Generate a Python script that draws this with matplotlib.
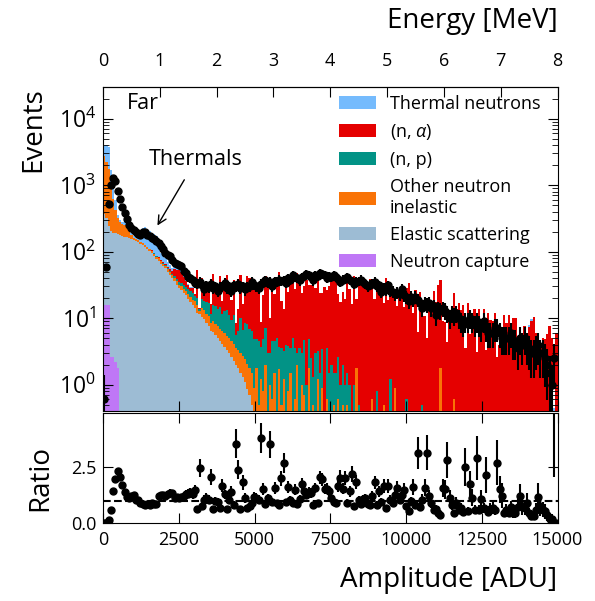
import numpy as np
import matplotlib
matplotlib.use("Agg")
import matplotlib.pyplot as plt
from matplotlib.ticker import LogLocator, NullFormatter, MultipleLocator, FormatStrFormatter, FixedLocator

plt.rcParams['font.family'] = ['Open Sans', 'DejaVu Sans']
plt.rcParams['mathtext.fontset'] = 'custom'
plt.rcParams['mathtext.rm'] = 'Open Sans'
plt.rcParams['mathtext.it'] = 'Open Sans:italic'
plt.rcParams['mathtext.bf'] = 'Open Sans:bold'

# ---------------- data ----------------
bin_width = 75          # ADU per bin
amp_max = 15000         # ADU
energy_max = 8          # MeV at amp_max
energy_ticks = [0, 1, 2, 3, 4, 5, 6, 7, 8]

capture = [
    16, 16, 16, 2.6, 2.6, 2.2, 1.8, 0, 0, 0,
    0, 0, 0, 0, 0, 0, 0, 0, 0, 0,
    0, 0, 0, 0, 0, 0, 0, 0, 0, 0,
    0, 0, 0, 0, 0, 0, 0, 0, 0, 0,
    0, 0, 0, 0, 0, 0, 0, 0, 0, 0,
    0, 0, 0, 0, 0, 0, 0, 0, 0, 0,
    0, 0, 0, 0, 0, 0, 0, 0, 0, 0,
    0, 0, 0, 0, 0, 0, 0, 0, 0, 0,
    0, 0, 0, 0, 0, 0, 0, 0, 0, 0,
    0, 0, 0, 0, 0, 0, 0, 0, 0, 0,
    0, 0, 0, 0, 0, 0, 0, 0, 0, 0,
    0, 0, 0, 0, 0, 0, 0, 0, 0, 0,
    0, 0, 0, 0, 0, 0, 0, 0, 0, 0,
    0, 0, 0, 0, 0, 0, 0, 0, 0, 0,
    0, 0, 0, 0, 0, 0, 0, 0, 0, 0,
    0, 0, 0, 0, 0, 0, 0, 0, 0, 0,
    0, 0, 0, 0, 0, 0, 0, 0, 0, 0,
    0, 0, 0, 0, 0, 0, 0, 0, 0, 0,
    0, 0, 0, 0, 0, 0, 0, 0, 0, 0,
    0, 0, 0, 0, 0, 0, 0, 0, 0, 0,
]

elastic = [
    350, 300, 230, 200, 190, 186, 180, 176, 172, 168,
    164, 160, 156, 150, 144, 138, 131, 124, 117, 109,
    101, 96, 87, 78, 73, 66, 60, 56, 50, 45,
    40, 36, 32, 28, 26.5, 24, 22, 19.5, 17.5, 15.5,
    14, 12, 11.5, 10.5, 9.8, 8.5, 7.6, 6.5, 6.2, 5.6,
    5.0, 4.5, 4.1, 3.7, 3.3, 3.0, 2.6, 2.3, 2.0, 1.75,
    1.5, 1.3, 1.1, 0.85, 0.7, 0.5, 0, 0, 0, 0,
    0, 0, 0, 0, 0, 0, 0, 0, 0, 0,
    0, 0, 0, 0, 0, 0, 0, 0, 0, 0,
    0, 0, 0, 0, 0, 0, 0, 0, 0, 0,
    0, 0, 0, 0, 0, 0, 0, 0, 0, 0,
    0, 0, 0, 0, 0, 0, 0, 0, 0, 0,
    0, 0, 0, 0, 0, 0, 0, 0, 0, 0,
    0, 0, 0, 0, 0, 0, 0, 0, 0, 0,
    0, 0, 0, 0, 0, 0, 0, 0, 0, 0,
    0, 0, 0, 0, 0, 0, 0, 0, 0, 0,
    0, 0, 0, 0, 0, 0, 0, 0, 0, 0,
    0, 0, 0, 0, 0, 0, 0, 0, 0, 0,
    0, 0, 0, 0, 0, 0, 0, 0, 0, 0,
    0, 0, 0, 0, 0, 0, 0, 0, 0, 0,
]

other_inelastic = [
    2400, 1900, 1500, 800, 420, 240, 140, 100, 85, 82,
    68, 45, 22, 10, 12, 10, 9, 9, 8, 8,
    7, 7, 6.5, 6, 6, 5.5, 5.5, 5, 5, 4.8,
    4.6, 4.4, 4.2, 4, 3.9, 3.8, 3.6, 3.5, 3.4, 3.2,
    4, 3.8, 1.5, 3.6, 3.4, 3.2, 3, 2, 2.8, 2.6,
    2.5, 2.4, 2.3, 2.2, 2.1, 2, 1.9, 1.8, 1.5, 1.6,
    1.5, 1.4, 1.3, 1.2, 1.1, 1.0, 0.9, 1.8, 0.5, 1.2,
    0.8, 2, 0, 1, 0.6, 1.5, 0, 1.7, 0.5, 1.2,
    0, 0.8, 1.5, 0, 0.6, 2, 0, 1, 0.7, 0,
    1.8, 0, 0.5, 0, 1.2, 0, 0.9, 0, 0.6, 0,
    0, 0.5, 0, 0.6, 0, 0.5, 0, 0.5, 0, 0.4,
    0, 1.8, 0, 0, 0, 0, 0, 0, 0.6, 0,
    0, 0, 0, 0.5, 0, 0, 0, 0, 0.9, 0,
    0, 0, 0, 0, 0, 0, 0, 0, 0, 0,
    0, 0, 0, 0, 0, 0, 0, 0, 1.8, 0,
    0, 0, 0, 0, 0.6, 0, 0, 0, 0, 0,
    0, 0, 0, 0, 0, 0, 0, 0, 0, 0,
    0, 0, 0, 0, 0, 0, 0, 0, 0, 0,
    0, 0, 0, 0, 0, 0, 0, 0, 0, 0,
    0, 0, 0, 0, 0, 0, 0, 0, 0, 0,
]

n_p = [
    0, 0, 0, 0, 0, 0, 0, 0, 0, 0,
    0, 0, 0, 0, 0, 0, 0, 0.3, 0.3, 0.5,
    0.5, 0.6, 0.8, 1, 1, 1.2, 1.3, 1.5, 1.7, 2,
    2.2, 2.5, 3, 3.2, 3.5, 3.8, 4, 4.2, 4.5, 4.8,
    3.5, 4, 0.5, 5, 5, 6, 6, 3, 7, 7,
    6, 8, 5, 7, 8, 6, 5, 7, 2, 3,
    7, 4, 6, 6, 5, 5, 4, 3, 4, 2.5,
    4, 5, 3, 2, 4, 3, 5, 2, 3, 2,
    4, 3, 2, 5, 3, 1, 3.5, 2, 4, 1,
    3, 2.5, 0.8, 3, 2, 1.5, 2.5, 0, 3, 1.5,
    2, 1, 1.5, 2, 1, 1.5, 1, 1, 1, 0,
    1, 0, 0.5, 0, 0, 0, 0, 0, 0, 0,
    0.8, 0, 0, 0, 0, 0, 1.2, 0, 0, 0,
    0, 0, 0, 0.6, 0, 0, 0, 0, 0, 0,
    0.5, 0, 0, 0, 0, 0, 0, 0, 0, 0,
    0, 0, 0, 0, 0, 0, 0, 0, 0, 0,
    0, 0, 0, 0, 0, 0, 0, 0, 0, 0,
    0, 0, 0, 0, 0, 0, 0, 0, 0, 0,
    0, 0, 0, 0, 0, 0, 0, 0, 0, 0,
    0, 0, 0, 0, 0, 0, 0, 0, 0, 0,
]

n_alpha = [
    0, 0, 0, 0, 0, 0, 0, 0, 0, 0,
    0, 0, 0, 0, 0, 0.5, 0.6, 0.8, 1, 1,
    1.2, 1.5, 1.5, 1.8, 2, 2.2, 2.5, 2.5, 3, 3.2,
    3.5, 12, 14, 18, 16, 10, 6, 4, 3, 5,
    1.3, 32.4, 0.8, 21, 8, 10, 11.3, 4.6, 30, 15.8,
    14.2, 28, 6.6, 13.8, 31.6, 17.8, 9.5, 26.7, 3.0, 7.5,
    35, 9.8, 16, 35, 33.7, 33.5, 22.7, 22, 22.4, 5,
    17.6, 36, 27.4, 7, 27, 18.5, 34.3, 45, 14.5, 10.7,
    32.5, 21.2, 33, 44, 23.9, 44, 30.9, 20.8, 25.8, 36.4,
    27.2, 28.8, 44, 25.8, 45, 22, 20.3, 29.3, 22.6, 29,
    35.5, 45.5, 44, 20.8, 16.4, 23, 18.5, 43.5, 26, 16,
    42, 17.4, 34.1, 45, 32.7, 29.5, 35.4, 39, 26.4, 19.4,
    35.8, 22, 27, 16.3, 40, 18.8, 23.8, 28, 17.5, 15.4,
    22, 21.4, 14.8, 27.8, 33.9, 21.9, 11.9, 26.9, 6.1, 24.3,
    13.3, 10.9, 5.1, 14.4, 15.7, 25.4, 17.6, 31, 35, 9,
    8.7, 4.3, 9, 15, 22.9, 13.5, 17, 13.4, 16, 3.6,
    17, 5.7, 8, 13.6, 3.1, 13.6, 6.5, 13.6, 3.3, 12,
    9.5, 9, 11.9, 2.6, 4, 4.1, 11, 8.5, 11, 8.5,
    10, 10, 5, 4.2, 5.4, 7.7, 4.5, 7.4, 9.1, 10.3,
    5.9, 3.4, 4, 5.1, 4.8, 5.7, 7.5, 5, 0, 6,
]

thermal = [
    1130, 1780, 2050, 700, 287, 165, 34, 24, 24, 27,
    31, 18, 12, 14, 31, 36, 61, 95, 112, 90,
    97, 77, 89, 88, 30, 22, 18, 15, 10, 8,
    6, 5, 4, 3, 2.5, 2, 1.5, 1, 1, 0.5,
    0.5, 0, 0, 0, 0, 0, 0, 0, 0, 0,
    0, 0, 0, 0, 0, 0, 0, 0, 0, 0,
    0, 0, 0, 0, 0, 0, 0, 0, 0, 0,
    0, 0, 0, 0, 0, 0, 0, 0, 0, 0,
    0, 0, 0, 0, 0, 0, 0, 0, 0, 0,
    0, 0, 0, 0, 0, 0, 0, 0, 0, 0,
    0, 0, 0, 0, 0, 0, 0, 0, 0, 0,
    0, 0, 0, 0, 0, 0, 0, 0, 0, 0,
    0, 0, 0, 0, 0, 0, 0, 0, 0, 0,
    0, 0, 0, 0, 0, 0, 0, 0, 0, 0,
    0, 0, 0, 0, 0, 0, 0, 0, 0, 0,
    0, 0, 0, 0, 0.5, 0, 0, 0, 0, 0,
    0, 0, 0, 0, 0, 0, 0, 0, 0, 0,
    0, 0, 0, 0, 0, 0, 0, 0, 0, 0,
    0, 0, 0, 0, 0, 0, 0, 0.6, 0.6, 0,
    0, 0, 0, 0, 0, 0, 0, 0, 0.45, 0,
]

data_counts = [
    0.6, 58, 520, 1000, 1270, 1150, 820, 610, 470, 380,
    305, 250, 230, 215, 195, 187, 180, 195, 195, 180,
    170, 160, 157, 145, 137, 120, 108, 97, 90, 85,
    75, 68, 65, 63, 60, 52, 48, 42, 40, 37,
    34, 33, 35, 31, 27, 31, 29, 33, 28, 30,
    26, 29, 30, 34, 28, 30, 26, 31, 30, 33,
    28, 30, 27, 29, 30, 35, 32, 30, 28, 33,
    34, 37, 34, 35, 30, 36, 35, 38, 36, 37,
    34, 40, 38, 44, 41, 40, 37, 41, 43, 46,
    44, 42, 37, 45, 43, 48, 46, 44, 40, 43,
    42, 44, 41, 39, 35, 38, 39, 41, 38, 36,
    33, 35, 36, 38, 35, 33, 30, 32, 33, 35,
    30, 31, 25, 28, 27, 31, 26, 25, 23, 24,
    23, 27, 22, 21, 18, 21, 19, 21, 19, 17,
    14, 17, 16, 17, 14, 15, 11, 14, 13, 14,
    13, 12, 10, 12, 11, 12, 10, 9, 8, 9,
    9, 10, 9, 8, 9, 8, 7, 9, 7, 6,
    6, 6, 7, 7, 6, 5, 5, 5, 5, 6,
    4.5, 4.5, 3.5, 5, 4, 5, 4, 3.5, 3, 3,
    3.5, 4, 3, 3, 2.5, 2, 1.5, 1, 2.5, 0,
]

labels = ["Neutron capture", "Elastic scattering", "Other neutron\ninelastic",
          "(n, p)", r"(n, $\alpha$)", "Thermal neutrons"]
colors = ["#bf77f6", "#9dbcd4", "#f97306", "#029386", "#e50000", "#75bbfd"]

# ---------------- derived ----------------
edges = np.arange(0, amp_max + bin_width, bin_width)
centers = 0.5 * (edges[:-1] + edges[1:])
components = [np.array(c, float) for c in (capture, elastic, other_inelastic, n_p, n_alpha, thermal)]
mc_total = np.sum(components, axis=0)
data = np.array(data_counts, float)
data_err = np.sqrt(data)

# ---------------- figure ----------------
fig = plt.figure(figsize=(5.95, 6.01), dpi=100)
ax = fig.add_axes([103 / 595, 1 - 411 / 601, 454.5 / 595, 324 / 601])
ax2 = fig.add_axes([103 / 595, 1 - 523 / 601, 454.5 / 595, 110 / 601])

ax.hist([centers] * len(components), bins=edges, weights=components, stacked=True,
        histtype='stepfilled', color=colors, label=labels, log=True, linewidth=0)

m = data > 0
ax.errorbar(centers[m], data[m], yerr=data_err[m], fmt='o', color='k', ms=5,
            elinewidth=1.5, capsize=0, zorder=5)

ax.set_yscale('log')
ax.set_xlim(0, amp_max)
ax.set_ylim(0.4, 3e4)
ax.yaxis.set_major_locator(LogLocator(base=10, numticks=10))
ax.yaxis.set_minor_locator(LogLocator(base=10, subs=np.arange(2, 10), numticks=20))
ax.yaxis.set_minor_formatter(NullFormatter())
ax.xaxis.set_major_locator(MultipleLocator(2500))
ax.tick_params(axis='both', which='both', direction='in', right=True, top=False,
               labelbottom=False)
ax.tick_params(axis='y', labelsize=16.5, pad=5)
ax.tick_params(which='major', length=7)
ax.tick_params(which='minor', length=4)

secax = ax.secondary_xaxis('top', functions=(lambda a: a * energy_max / amp_max,
                                             lambda e: e * amp_max / energy_max))
secax.xaxis.set_major_locator(FixedLocator(energy_ticks))
secax.tick_params(direction='in', length=7, labelsize=13, pad=12.5)
secax.set_xlabel('Energy [MeV]', fontsize=20, loc='right', labelpad=17)

ax.text(0.053, 0.948, 'Far', transform=ax.transAxes, fontsize=15.5, ha='left', va='center')
ax.text(0.2046, 0.775, 'Thermals', transform=ax.transAxes, fontsize=15.5, ha='center', va='center')
ax.annotate('', xy=(0.1166, 0.565), xycoords='axes fraction',
            xytext=(0.182, 0.721), textcoords='axes fraction',
            arrowprops=dict(arrowstyle='->', lw=1, color='k', mutation_scale=15))

h, l = ax.get_legend_handles_labels()
ax.legend(h, l, loc='upper left', bbox_to_anchor=(339 / 595, 1 - 95 / 601),
          bbox_transform=fig.transFigure, frameon=False, fontsize=13,
          handlelength=2.05, handleheight=0.72, handletextpad=0.78, labelspacing=0.5,
          borderpad=0, borderaxespad=0)

fig.text(33 / 595, 1 - 87 / 601, 'Events', rotation=90, fontsize=20, ha='center', va='top')

# ratio panel
mr = mc_total > 0
ratio = data[mr] / mc_total[mr]
ratio_err = data_err[mr] / mc_total[mr]
ax2.errorbar(centers[mr], ratio, yerr=ratio_err, fmt='o', color='k', ms=5,
             elinewidth=1.5, capsize=0, zorder=5)
ax2.axhline(1.0, color='k', ls='--', lw=1.5)
ax2.set_xlim(0, amp_max)
ax2.set_ylim(0, 4.9)
ax2.xaxis.set_major_locator(MultipleLocator(2500))
ax2.yaxis.set_major_locator(MultipleLocator(2.5))
ax2.yaxis.set_major_formatter(FormatStrFormatter('%.1f'))
ax2.tick_params(axis='both', which='both', direction='in', top=True, right=True,
                labelsize=13, length=7)
ax2.tick_params(axis='x', pad=6)
ax2.tick_params(axis='y', pad=5)
fig.text(40 / 595, 1 - 478 / 601, 'Ratio', rotation=90, fontsize=20, ha='center', va='center')
fig.text(557 / 595, 1 - 580 / 601, 'Amplitude [ADU]', fontsize=20, ha='right', va='center')

fig.savefig('out.png', dpi=100)
